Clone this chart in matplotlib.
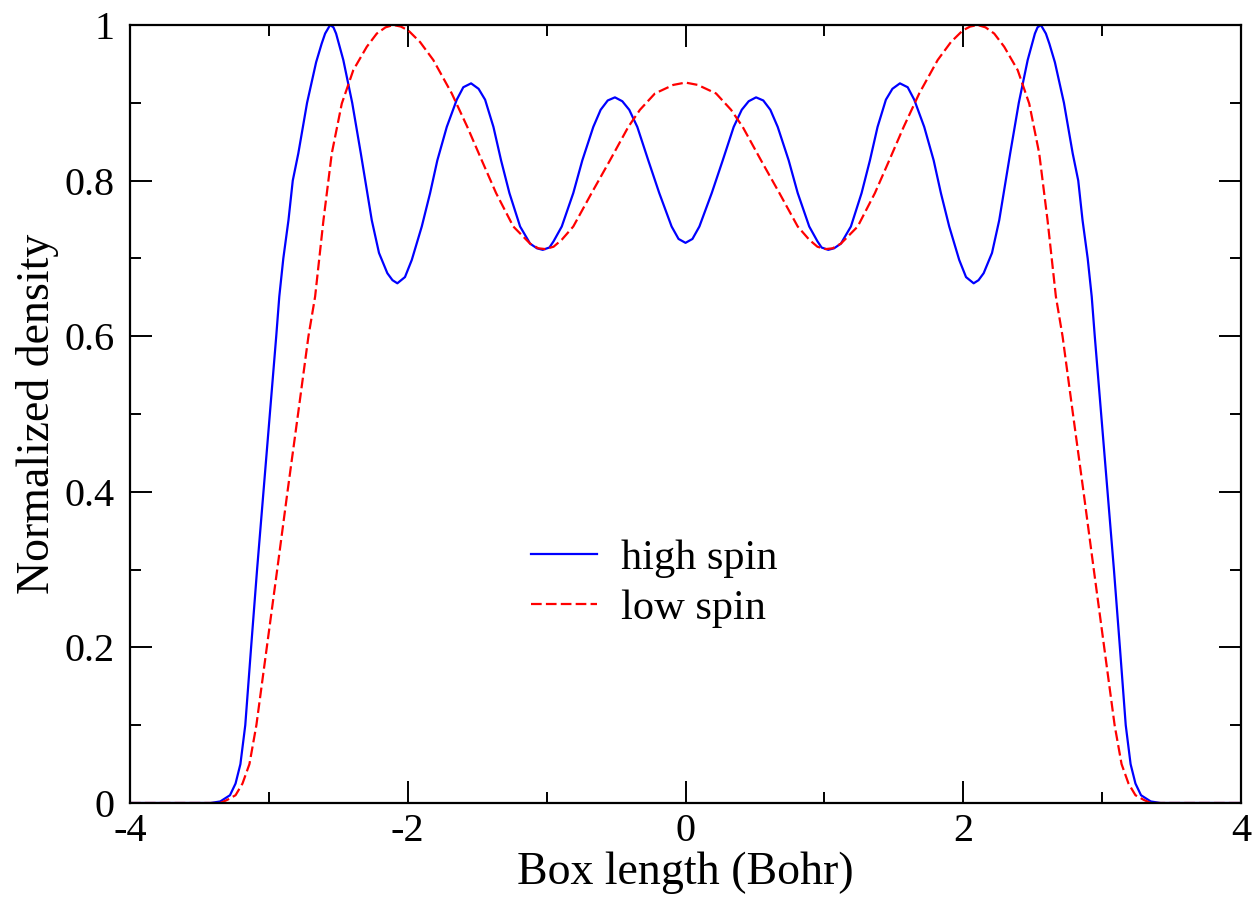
import matplotlib
matplotlib.use('Agg')
import matplotlib.pyplot as plt
from matplotlib.ticker import MultipleLocator, FormatStrFormatter

# high spin density
high_x = [-4.0, -3.5, -3.42, -3.35, -3.28, -3.24, -3.205, -3.17, -3.128, -3.085, -3.039,
          -2.993, -2.947, -2.925, -2.896, -2.859, -2.828, -2.788, -2.725, -2.66, -2.62,
          -2.595, -2.559, -2.535, -2.516, -2.464, -2.40, -2.338, -2.259, -2.207, -2.147,
          -2.11, -2.075, -2.02, -1.971, -1.899, -1.839, -1.787, -1.719, -1.647, -1.60,
          -1.544, -1.49, -1.443, -1.383, -1.328, -1.268, -1.191, -1.119, -1.07, -1.028,
          -0.98, -0.95, -0.891, -0.808, -0.743, -0.664, -0.611, -0.56, -0.508, -0.455,
          -0.405, -0.347, -0.268, -0.189, -0.10, -0.05, 0.0,
          0.05, 0.10, 0.189, 0.268, 0.347, 0.405, 0.455, 0.508, 0.56, 0.611, 0.664, 0.743,
          0.808, 0.891, 0.95, 0.98, 1.028, 1.07, 1.119, 1.191, 1.268, 1.328, 1.383, 1.443,
          1.49, 1.544, 1.60, 1.647, 1.719, 1.787, 1.839, 1.899, 1.971, 2.02, 2.075, 2.11,
          2.147, 2.207, 2.259, 2.338, 2.40, 2.464, 2.516, 2.535, 2.559, 2.595, 2.62, 2.66,
          2.725, 2.788, 2.828, 2.859, 2.896, 2.925, 2.947, 2.993, 3.039, 3.085, 3.128, 3.17,
          3.205, 3.24, 3.28, 3.35, 3.42, 3.5, 4.0]
high_y = [0.0, 0.0, 0.0, 0.002, 0.01, 0.025, 0.05, 0.1, 0.2, 0.3, 0.4,
          0.5, 0.6, 0.651, 0.70, 0.749, 0.80, 0.835, 0.90, 0.952, 0.976,
          0.989, 1.0, 0.997, 0.989, 0.955, 0.90, 0.835, 0.749, 0.707, 0.681,
          0.672, 0.668, 0.676, 0.698, 0.741, 0.784, 0.826, 0.869, 0.904, 0.92,
          0.925, 0.918, 0.904, 0.869, 0.826, 0.784, 0.741, 0.719, 0.713, 0.711,
          0.714, 0.722, 0.741, 0.784, 0.826, 0.869, 0.891, 0.903, 0.907, 0.902,
          0.891, 0.869, 0.826, 0.784, 0.741, 0.725, 0.720,
          0.725, 0.741, 0.784, 0.826, 0.869, 0.891, 0.902, 0.907, 0.903, 0.891, 0.869, 0.826,
          0.784, 0.741, 0.722, 0.714, 0.711, 0.713, 0.719, 0.741, 0.784, 0.826, 0.869, 0.904,
          0.918, 0.925, 0.92, 0.904, 0.869, 0.826, 0.784, 0.741, 0.698, 0.676, 0.668, 0.672,
          0.681, 0.707, 0.749, 0.835, 0.90, 0.955, 0.989, 0.997, 1.0, 0.989, 0.976, 0.952,
          0.90, 0.835, 0.80, 0.749, 0.70, 0.651, 0.6, 0.5, 0.4, 0.3, 0.2, 0.1,
          0.05, 0.025, 0.01, 0.002, 0.0, 0.0, 0.0]

# low spin density
low_x = [-4.0, -3.45, -3.35, -3.30, -3.24, -3.19, -3.14, -3.09, -3.015, -2.94, -2.866,
         -2.79, -2.715, -2.667, -2.607, -2.547, -2.475, -2.392, -2.295, -2.223, -2.16,
         -2.104, -2.05, -1.996, -1.911, -1.816, -1.683, -1.571, -1.467, -1.364, -1.24,
         -1.119, -1.06, -1.01, -0.95, -0.891, -0.808, -0.676, -0.544, -0.412, -0.328,
         -0.22, -0.088, 0.0,
         0.088, 0.22, 0.328, 0.412, 0.544, 0.676, 0.808, 0.891, 0.95, 1.01, 1.06, 1.119,
         1.24, 1.364, 1.467, 1.571, 1.683, 1.816, 1.911, 1.996, 2.05, 2.104, 2.16, 2.223,
         2.295, 2.392, 2.475, 2.547, 2.607, 2.667, 2.715, 2.79, 2.866, 2.94, 3.015, 3.09,
         3.14, 3.19, 3.24, 3.30, 3.35, 3.45, 4.0]
low_y = [0.0, 0.0, 0.0, 0.004, 0.01, 0.025, 0.05, 0.1, 0.2, 0.3, 0.4,
         0.5, 0.6, 0.651, 0.749, 0.835, 0.899, 0.942, 0.972, 0.989, 0.997,
         1.0, 0.998, 0.993, 0.978, 0.955, 0.912, 0.869, 0.826, 0.784, 0.741,
         0.719, 0.713, 0.712, 0.715, 0.724, 0.741, 0.784, 0.826, 0.869, 0.891,
         0.912, 0.923, 0.926,
         0.923, 0.912, 0.891, 0.869, 0.826, 0.784, 0.741, 0.724, 0.715, 0.712, 0.713, 0.719,
         0.741, 0.784, 0.826, 0.869, 0.912, 0.955, 0.978, 0.993, 0.998, 1.0, 0.997, 0.989,
         0.972, 0.942, 0.899, 0.835, 0.749, 0.651, 0.6, 0.5, 0.4, 0.3, 0.2, 0.1,
         0.05, 0.025, 0.01, 0.004, 0.0, 0.0, 0.0]


def main():
    plt.rcParams['font.family'] = 'Liberation Serif'
    plt.rcParams['axes.unicode_minus'] = False
    fig = plt.figure(figsize=(12.57, 8.99), dpi=100)
    ax = fig.add_axes([130 / 1257, 96 / 899, 1111 / 1257, 778 / 899])

    ax.plot(high_x, high_y, color='#0000ff', lw=1.6, label='high spin')
    ax.plot(low_x, low_y, color='#ff0000', lw=1.6, dashes=(4.8, 1.9), label='low spin')

    ax.set_xlim(-4, 4)
    ax.set_ylim(0, 1)
    ax.xaxis.set_major_locator(MultipleLocator(2))
    ax.xaxis.set_minor_locator(MultipleLocator(1))
    ax.yaxis.set_major_locator(MultipleLocator(0.2))
    ax.yaxis.set_minor_locator(MultipleLocator(0.1))
    ax.xaxis.set_major_formatter(FormatStrFormatter('%g'))
    ax.yaxis.set_major_formatter(FormatStrFormatter('%g'))
    ax.tick_params(which='both', direction='in', top=True, right=True, width=1.4, labelsize=29)
    ax.tick_params(which='major', length=16)
    ax.tick_params(which='minor', length=8)
    ax.tick_params(axis='x', pad=7)
    ax.tick_params(axis='y', pad=11)
    for sp in ax.spines.values():
        sp.set_linewidth(1.6)

    ax.set_xlabel('Box length (Bohr)', fontsize=33, labelpad=1)
    ax.set_ylabel('Normalized density', fontsize=33, labelpad=4)

    ax.legend(loc='upper left', bbox_to_anchor=(0.3456, 0.361), frameon=False, fontsize=30.5,
              handlelength=1.57, handletextpad=0.55, labelspacing=0.27, borderaxespad=0)

    fig.savefig('out.png', dpi=100)


if __name__ == '__main__':
    main()
